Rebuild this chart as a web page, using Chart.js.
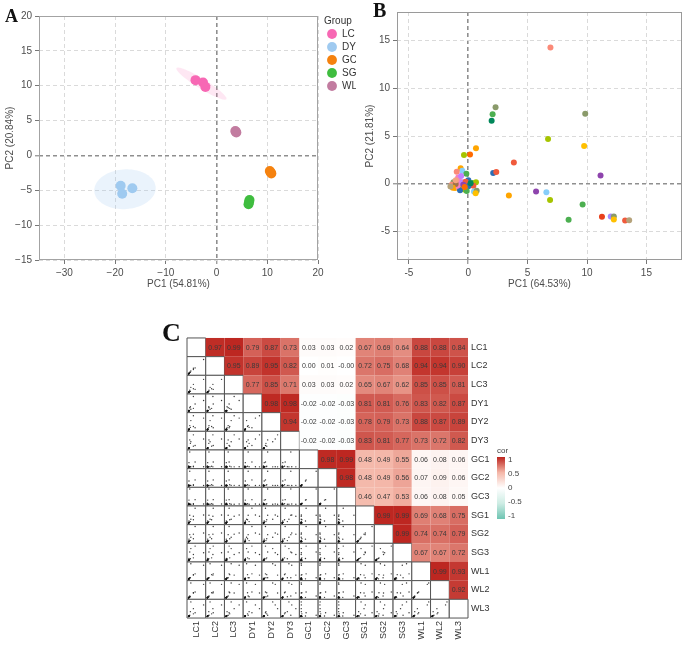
<!DOCTYPE html>
<html>
<head>
<meta charset="utf-8">
<script src="https://cdn.jsdelivr.net/npm/chart.js@4.4.0/dist/chart.umd.min.js"></script>
<style>
  body { margin: 0; width: 686px; height: 647px; background: #fff; position: relative; overflow: hidden; }
  canvas { position: absolute; }
  .tag { position: absolute; font-family: "Liberation Serif", "Times New Roman", serif; font-weight: bold; color: #111; line-height: 1; }
</style>
</head>
<body>
<canvas id="pcaA" width="360" height="300" style="left:0;top:0"></canvas>
<canvas id="pcaB" width="326" height="300" style="left:360px;top:0"></canvas>
<canvas id="corr" width="360" height="347" style="left:180px;top:300px"></canvas>
<div class="tag" style="left:5px;top:7px;font-size:18px">A</div>
<div class="tag" style="left:373px;top:0px;font-size:20px">B</div>
<div class="tag" style="left:162px;top:320px;font-size:26px">C</div>
<script>
// ---- panel A : group PCA ----
const groups = ['LC', 'DY', 'GC', 'SG', 'WL'];
const pc1A = [[-4.15, -2.66, -2.2], [-18.9, -18.6, -16.6], [10.5, 10.8, 10.7], [6.5, 6.3, 6.4], [3.7, 3.9, 3.8]];
const pc2A = [[10.8, 10.46, 9.83], [-4.35, -5.5, -4.7], [-2.25, -2.6, -2.45], [-6.4, -7.0, -6.7], [3.5, 3.3, 3.4]];
const groupColors = ['#f768b4', '#9fcaf0', '#f5820f', '#3fbd3f', '#c27ca0'];
const ticksAx = [-30, -20, -10, 0, 10, 20];
const ticksAy = [-15, -10, -5, 0, 5, 10, 15, 20];

// confidence ellipses (data units)
const ellipseCx = [-2.98, -18.05];
const ellipseCy = [10.3, -4.85];
const ellipseA = [5.4, 6.06];
const ellipseB = [0.75, 2.85];
const ellipseAngle = [-24, 2];
const ellipseFill = ['rgba(247,104,180,0.16)', 'rgba(159,202,240,0.22)'];

// ---- panel B : loadings ----
const pc1B = [6.92, 2.30, 2.05, 1.97, 9.85, 6.72, 9.76, 0.65, -0.36, 0.15, 3.84, 2.10, 2.36, 11.14, 3.42, 5.71, 6.58, 6.89, 9.63, 8.45, 11.26, 12.0, 12.26, 12.26, 13.21, 13.55,
  -0.64, -0.50, -0.97, -0.16, 0.01, -0.75, -0.47, -0.22, 0.34, 0.65, 0.43, 0.01, -1.25, -1.20, -1.39, -1.11, -0.83, -0.55, -0.27, -0.13, -0.69, 0.48, 0.71, 0.62, -0.92, -0.42, -1.06, -1.30, -1.50, -0.85, -0.60, -1.05, -0.30, 0.20];
const pc2B = [14.27, 8.02, 7.29, 6.60, 7.33, 4.69, 3.96, 3.72, 3.02, 3.06, 2.22, 1.11, 1.22, 0.87, -1.25, -0.83, -0.90, -1.70, -2.19, -3.78, -3.47, -3.44, -3.44, -3.75, -3.85, -3.82,
  1.63, 1.35, 1.25, 1.04, 0.35, 0.24, 0.14, 0.21, 0.07, 0.14, -0.21, -0.28, 0.14, -0.28, -0.10, -0.45, -0.38, -0.56, -0.63, -0.76, -0.70, -0.83, -0.73, -1.01, -0.21, -0.10, -0.03, -0.42, -0.30, 0.65, 0.80, 0.35, -0.35, 0.05];
const colorB = ['#fb8a78', '#8a9a6a', '#4caf50', '#00875a', '#8a9a6a', '#a6c400', '#ffc000', '#ffa500', '#a6c400', '#ff6a00', '#f05a3c', '#2c6fb5', '#f05a3c', '#8e44ad', '#ffa500', '#8e44ad', '#87cefa', '#a6c400', '#4caf50', '#4caf50', '#e8401c', '#a48cff', '#8a9a6a', '#ffc000', '#f05a3c', '#b5a27a',
  '#ffa500', '#87cefa', '#fb8a78', '#4caf50', '#2c6fb5', '#f781bf', '#c080ff', '#f05a3c', '#4caf50', '#a6c400', '#f05a3c', '#2c6fb5', '#8a9a6a', '#b5a27a', '#fb8a78', '#ffa500', '#f4a582', '#ffc000', '#a6c400', '#4caf50', '#2c6fb5', '#87cefa', '#8a9a6a', '#ffc000', '#f781bf', '#8e44ad', '#a0724a', '#ffa500', '#b5a27a', '#f781bf', '#c080ff', '#f4a582', '#ff6a00', '#00875a'];
const ticksBx = [-5, 0, 5, 10, 15];
const ticksBy = [-5, 0, 5, 10, 15];

// ---- panel C : sample correlations ----
const samples = ['LC1', 'LC2', 'LC3', 'DY1', 'DY2', 'DY3', 'GC1', 'GC2', 'GC3', 'SG1', 'SG2', 'SG3', 'WL1', 'WL2', 'WL3'];
// upper triangle, row by row (to the right of the diagonal)
const corrRows = [
  [0.97, 0.99, 0.79, 0.87, 0.73, 0.03, 0.03, 0.02, 0.67, 0.69, 0.64, 0.88, 0.88, 0.84],
  [0.95, 0.89, 0.95, 0.82, 0.00, 0.01, -0.001, 0.72, 0.75, 0.68, 0.94, 0.94, 0.90],
  [0.77, 0.85, 0.71, 0.03, 0.03, 0.02, 0.65, 0.67, 0.62, 0.85, 0.85, 0.81],
  [0.98, 0.98, -0.02, -0.02, -0.03, 0.81, 0.81, 0.76, 0.83, 0.82, 0.87],
  [0.94, -0.02, -0.02, -0.03, 0.78, 0.79, 0.73, 0.88, 0.87, 0.89],
  [-0.02, -0.02, -0.03, 0.83, 0.81, 0.77, 0.73, 0.72, 0.82],
  [0.98, 0.99, 0.48, 0.49, 0.55, 0.06, 0.08, 0.06],
  [0.98, 0.48, 0.49, 0.56, 0.07, 0.09, 0.06],
  [0.46, 0.47, 0.53, 0.06, 0.08, 0.05],
  [0.99, 0.99, 0.69, 0.68, 0.75],
  [0.99, 0.74, 0.74, 0.79],
  [0.67, 0.67, 0.72],
  [0.99, 0.93],
  [0.92],
  []
];
// metabolite abundance per sample (columns follow `samples`), used for the pair plots
const profiles = [
  [9.6, 9.1, 8.4, 6.8, 7.5, 6.1, 0.3, 0.2, 0.3, 5.2, 5.6, 4.9, 8.9, 8.6, 7.4],
  [3.1, 3.6, 5.2, 9.4, 9.0, 8.7, 0.2, 0.3, 0.2, 4.4, 4.9, 3.8, 2.6, 3.1, 5.0],
  [0.8, 1.1, 1.4, 2.2, 2.7, 5.5, 9.7, 9.3, 9.9, 5.1, 4.6, 5.4, 0.9, 1.2, 0.8],
  [4.2, 3.8, 2.0, 4.6, 1.3, 1.9, 3.3, 3.8, 3.1, 9.5, 9.8, 9.2, 3.4, 3.7, 2.4],
  [1.5, 1.8, 3.3, 1.2, 5.9, 4.3, 0.2, 0.3, 0.2, 2.5, 2.9, 7.6, 9.8, 9.5, 9.3],
  [3.1, 2.8, 2.4, 1.8, 2.1, 1.5, 0.6, 0.7, 0.5, 2.2, 2.0, 1.7, 2.9, 3.2, 1.7],
  [1.2, 1.0, 0.7, 2.8, 1.6, 3.3, 0.3, 0.3, 0.2, 1.0, 0.8, 1.1, 0.9, 0.7, 3.1],
  [0.3, 0.3, 0.2, 0.4, 0.5, 0.4, 2.9, 3.1, 2.8, 1.4, 1.7, 1.3, 0.2, 0.3, 0.3],
  [0.3, 0.4, 0.3, 0.5, 0.6, 0.4, 0.2, 0.3, 0.2, 0.6, 0.5, 0.7, 0.4, 0.3, 0.5],
  [0.2, 0.1, 0.2, 0.3, 0.2, 0.3, 0.4, 0.3, 0.4, 0.2, 0.3, 0.2, 0.1, 0.2, 0.1],
  [0.1, 0.2, 0.1, 0.1, 0.2, 0.1, 0.1, 0.1, 0.2, 0.1, 0.2, 0.1, 0.2, 0.1, 0.2],
  [0.4, 0.3, 0.5, 0.2, 0.1, 0.2, 0.3, 0.2, 0.3, 0.4, 0.3, 0.4, 0.3, 0.4, 0.3],
  [0.0, 0.1, 0.0, 0.1, 0.0, 0.1, 0.0, 0.1, 0.0, 0.1, 0.0, 0.1, 0.0, 0.1, 0.0],
  [0.2, 0.3, 0.2, 0.4, 0.3, 0.2, 0.2, 0.1, 0.2, 0.3, 0.2, 0.3, 0.2, 0.2, 0.3],
  [0.6, 0.5, 0.7, 0.3, 0.4, 0.5, 0.1, 0.2, 0.1, 0.5, 0.6, 0.4, 0.7, 0.6, 0.5],
  [0.1, 0.0, 0.1, 0.2, 0.1, 0.0, 0.6, 0.5, 0.7, 0.2, 0.1, 0.3, 0.0, 0.1, 0.2],
  [0.5, 0.4, 0.4, 0.3, 0.5, 0.3, 0.1, 0.1, 0.2, 0.5, 0.4, 0.5, 0.6, 0.5, 0.4],
  [0.1, 0.1, 0.2, 0.0, 0.0, 0.1, 0.7, 0.6, 0.8, 0.3, 0.3, 0.2, 0.1, 0.0, 0.1],
  [0.0, 0.0, 0.1, 0.1, 0.0, 0.0, 0.1, 0.0, 0.0, 0.0, 0.1, 0.0, 0.0, 0.1, 0.0],
  [0.2, 0.1, 0.1, 0.0, 0.1, 0.1, 0.0, 0.0, 0.1, 0.1, 0.0, 0.1, 0.1, 0.0, 0.1]
];
const colorbarTicks = [1, 0.5, 0, -0.5, -1];

Chart.defaults.font.family = '"Liberation Sans", Arial, sans-serif';
Chart.defaults.font.size = 10;
Chart.defaults.color = '#4d4d4d';
Chart.defaults.animation = false;
Chart.defaults.plugins.tooltip.enabled = false;

const minus = v => (v < 0 ? '\u2212' + Math.abs(v) : '' + v);

// draws the full box around the plotting area
const framePlugin = {
  id: 'frame',
  afterDraw(chart, args, opts) {
    const { ctx, chartArea: a } = chart;
    ctx.save();
    ctx.strokeStyle = opts.color || '#999';
    ctx.lineWidth = 1;
    ctx.strokeRect(Math.round(a.left) + 0.5, Math.round(a.top) + 0.5, Math.round(a.width) - 1, Math.round(a.height) - 1);
    ctx.restore();
  }
};

const ellipsePlugin = {
  id: 'ellipses',
  beforeDatasetsDraw(chart) {
    const { ctx, scales: { x, y } } = chart;
    ellipseCx.forEach((cx, i) => {
      const th = ellipseAngle[i] * Math.PI / 180;
      ctx.save();
      ctx.beginPath();
      for (let k = 0; k <= 90; k++) {
        const t = k / 90 * 2 * Math.PI;
        const dx = ellipseA[i] * Math.cos(t), dy = ellipseB[i] * Math.sin(t);
        const px = x.getPixelForValue(cx + dx * Math.cos(th) - dy * Math.sin(th));
        const py = y.getPixelForValue(ellipseCy[i] + dx * Math.sin(th) + dy * Math.cos(th));
        if (k === 0) ctx.moveTo(px, py); else ctx.lineTo(px, py);
      }
      ctx.closePath();
      ctx.fillStyle = ellipseFill[i];
      ctx.fill();
      ctx.restore();
    });
  }
};

function pcaAxis(min, max, tickValues, title, fmt, extra) {
  return Object.assign({
    type: 'linear', min: min, max: max,
    afterBuildTicks: s => { s.ticks = tickValues.map(v => ({ value: v })); },
    ticks: { autoSkip: false, callback: fmt, color: '#4d4d4d', padding: 3 },
    grid: {
      color: c => (c.tick && c.tick.value === 0 ? '#8f8f8f' : '#dadada'),
      lineWidth: c => (c.tick && c.tick.value === 0 ? 1.6 : 1),
      tickLength: 4, tickColor: '#777', tickWidth: 1
    },
    border: { display: false, dash: [4, 3] },
    title: { display: true, text: title, color: '#4d4d4d', font: { size: 10 } }
  }, extra);
}

new Chart(document.getElementById('pcaA'), {
  type: 'scatter',
  data: {
    datasets: groups.map((g, i) => ({
      label: g,
      data: pc1A[i].map((v, k) => ({ x: v, y: pc2A[i][k] })),
      pointRadius: 5,
      pointBackgroundColor: groupColors[i],
      backgroundColor: groupColors[i],
      pointBorderWidth: 0,
      borderWidth: 0
    }))
  },
  options: {
    responsive: false,
    layout: { padding: { left: 0, top: 16, right: 4, bottom: 6 } },
    scales: {
      x: pcaAxis(-35, 20, ticksAx, 'PC1 (54.81%)', minus, {
        afterFit: s => { s.height = 34; }
      }),
      y: pcaAxis(-15, 20, ticksAy, 'PC2 (20.84%)', minus, {
        afterFit: s => { s.width = 39; }
      }),
      gap: {
        type: 'linear', axis: 'y', position: 'right', display: true,
        afterFit: s => { s.width = 6; },
        grid: { display: false, drawTicks: false }, ticks: { display: false }, border: { display: false }
      }
    },
    plugins: {
      frame: { color: '#a3a3a3' },
      legend: {
        position: 'right', align: 'start', maxWidth: 32,
        title: { display: true, text: 'Group', position: 'start', color: '#333', font: { size: 10 }, padding: { top: 0, bottom: -2 } },
        labels: { usePointStyle: true, pointStyle: 'circle', boxHeight: 7, padding: 3, color: '#333', font: { size: 10 } }
      }
    }
  },
  plugins: [ellipsePlugin, framePlugin]
});

new Chart(document.getElementById('pcaB'), {
  type: 'scatter',
  data: {
    datasets: [{
      label: 'loadings',
      data: pc1B.map((v, i) => ({ x: v, y: pc2B[i] })),
      pointRadius: 3,
      pointBackgroundColor: colorB,
      pointBorderWidth: 0
    }]
  },
  options: {
    responsive: false,
    layout: { padding: { left: 0, top: 12, right: 4, bottom: 6 } },
    scales: {
      x: pcaAxis(-6, 18, ticksBx, 'PC1 (64.53%)', v => '' + v, {
        afterFit: s => { s.height = 34; }
      }),
      y: pcaAxis(-8, 18, ticksBy, 'PC2 (21.81%)', v => '' + v, {
        afterFit: s => { s.width = 37; }
      })
    },
    plugins: { legend: { display: false }, frame: { color: '#9a9a9a' } }
  },
  plugins: [framePlugin]
});

// ---- correlation matrix ----
function heatColor(v) {
  const stops = v >= 0
    ? [[255, 255, 255], [244, 182, 167], [188, 36, 30]]
    : [[255, 255, 255], [205, 236, 228], [110, 196, 178]];
  const a = Math.min(Math.abs(v), 1) * 2;
  const c0 = a <= 1 ? stops[0] : stops[1];
  const c1 = a <= 1 ? stops[1] : stops[2];
  const t = a <= 1 ? a : a - 1;
  return 'rgb(' + c0.map((c, k) => Math.round(c + (c1[k] - c) * t)).join(',') + ')';
}

const cells = [];
samples.forEach((_, r) => samples.forEach((_, c) => {
  cells.push({ x: c, y: r, v: c > r ? corrRows[r][c - r - 1] : null });
}));

const pairPoints = [];
samples.forEach((_, r) => samples.forEach((_, c) => {
  if (r <= c) return;
  profiles.forEach(p => {
    pairPoints.push({ x: c - 0.42 + 0.84 * p[c] / 10, y: r + 0.42 - 0.84 * p[r] / 10 });
  });
}));

const cellRadius = ctx => {
  const s = ctx.chart.scales.x;
  return Math.abs(s.getPixelForValue(1) - s.getPixelForValue(0)) / Math.SQRT2;
};

const corrPlugin = {
  id: 'corrText',
  afterDatasetsDraw(chart) {
    const { ctx, chartArea: a } = chart;
    const meta = chart.getDatasetMeta(1);
    ctx.save();
    ctx.font = '7px "Liberation Sans", Arial, sans-serif';
    ctx.textAlign = 'center';
    ctx.textBaseline = 'middle';
    ctx.fillStyle = '#3a3a3a';
    meta.data.forEach((pt, i) => {
      if (cells[i].v !== null) ctx.fillText(cells[i].v.toFixed(2), pt.x, pt.y + 0.5);
    });
    // colour key
    const bx = a.right + 29, by = a.top + 119, bw = 8, bh = 62;
    const grad = ctx.createLinearGradient(0, by, 0, by + bh);
    for (let k = 0; k <= 20; k++) grad.addColorStop(k / 20, heatColor(1 - k / 10));
    ctx.fillStyle = grad;
    ctx.fillRect(bx, by, bw, bh);
    ctx.fillStyle = '#444';
    ctx.font = '8px "Liberation Sans", Arial, sans-serif';
    ctx.textAlign = 'left';
    ctx.fillText('cor', bx, by - 6);
    colorbarTicks.forEach(v => {
      ctx.fillText(String(v), bx + bw + 3, by + 3 + (1 - v) / 2 * (bh - 6));
    });
    ctx.restore();
  }
};

const labelAxis = extra => Object.assign({
  type: 'linear', min: -0.5, max: 14.5,
  afterBuildTicks: s => { s.ticks = samples.map((_, i) => ({ value: i })); },
  ticks: { autoSkip: false, callback: v => samples[v], color: '#333', font: { size: 9 }, padding: 3 },
  grid: { display: false, drawTicks: false },
  border: { display: false }
}, extra);

new Chart(document.getElementById('corr'), {
  type: 'scatter',
  data: {
    datasets: [{
      label: 'pairs',
      data: pairPoints,
      pointRadius: 0.7,
      pointBackgroundColor: 'rgba(20,20,20,0.85)',
      pointBorderWidth: 0,
      order: 1,
      clip: false
    }, {
      label: 'cells',
      data: cells,
      pointStyle: 'rect',
      pointRadius: cellRadius,
      pointBackgroundColor: ctx => (ctx.raw && ctx.raw.v !== null ? heatColor(ctx.raw.v) : '#ffffff'),
      pointBorderColor: '#555',
      pointBorderWidth: ctx => (ctx.raw && ctx.raw.v !== null ? 0 : 1),
      order: 2,
      clip: false
    }]
  },
  options: {
    responsive: false,
    layout: { padding: { left: 7, top: 38, right: 32, bottom: 1 } },
    scales: {
      x: labelAxis({ position: 'bottom', afterFit: s => { s.height = 28; },
        ticks: { autoSkip: false, callback: v => samples[v], color: '#333', font: { size: 9 }, padding: 3, minRotation: 90, maxRotation: 90 } }),
      y: labelAxis({ position: 'right', reverse: true, afterFit: s => { s.width = 40; } })
    },
    plugins: { legend: { display: false } }
  },
  plugins: [corrPlugin]
});
</script>
</body>
</html>
